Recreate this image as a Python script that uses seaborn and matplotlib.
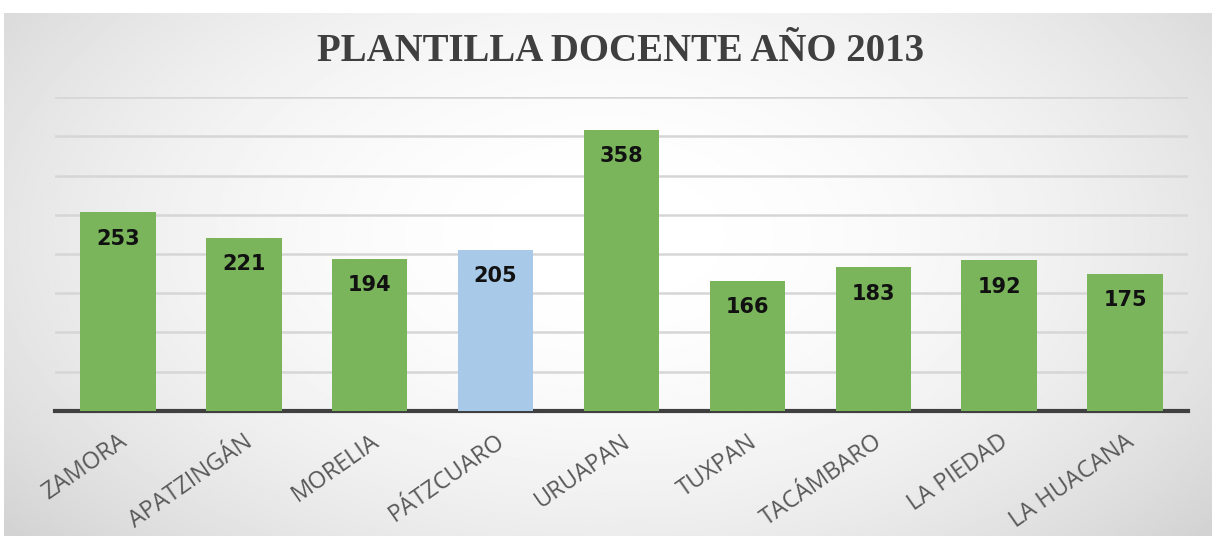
import numpy as np
import pandas as pd
import matplotlib
matplotlib.use("Agg")
import matplotlib.pyplot as plt
import seaborn as sns

# datos
municipios = ["ZAMORA", "APATZINGÁN", "MORELIA", "PÁTZCUARO", "URUAPAN",
              "TUXPAN", "TACÁMBARO", "LA PIEDAD", "LA HUACANA"]
docentes = [253, 221, 194, 205, 358, 166, 183, 192, 175]
colores = ["#7ab55c", "#7ab55c", "#7ab55c", "#a9c9e8", "#7ab55c",
           "#7ab55c", "#7ab55c", "#7ab55c", "#7ab55c"]

df = pd.DataFrame({"Municipio": municipios, "Docentes": docentes})

sns.set_style("white")
plt.rcParams["font.family"] = ["Open Sans", "DejaVu Sans"]

fig = plt.figure(figsize=(12.14, 5.39), dpi=100)
fig.patch.set_facecolor("white")

# fondo con degradado radial
bg = fig.add_axes([0.003, 0.006, 0.995, 0.970])
yy, xx = np.mgrid[-1:1:300j, -1:1:600j]
r = np.sqrt((xx / 1.0) ** 2 + ((yy + 0.15) / 1.35) ** 2)
shade = 1.0 - 0.20 * np.clip(r, 0, 1.4) ** 2 / 1.96
bg.imshow(shade, cmap="gray", vmin=0, vmax=1, aspect="auto",
          extent=[0, 1, 0, 1], interpolation="bilinear")
bg.set_axis_off()

ax = fig.add_axes([0.0453, 0.2375, 0.9333, 0.5825])
ax.patch.set_alpha(0)

sns.barplot(data=df, x="Municipio", y="Docentes", hue="Municipio",
            palette=colores, legend=False, width=0.6, saturation=1, ax=ax,
            linewidth=0, zorder=3)

ax.set_ylim(0, 400)
ax.set_yticks(range(0, 401, 50))
ax.yaxis.grid(True, color="#d6d6d6", lw=1.8)
ax.set_axisbelow(True)
ax.tick_params(axis="y", left=False, labelleft=False)
ax.tick_params(axis="x", bottom=False, pad=10)
ax.set_xlabel("")
ax.set_ylabel("")
for s in ["top", "left", "right"]:
    ax.spines[s].set_visible(False)
ax.spines["bottom"].set_color("#404040")
ax.spines["bottom"].set_linewidth(3)

plt.setp(ax.get_xticklabels(), rotation=35, ha="right",
         rotation_mode="anchor", fontsize=17, color="#595959")

for i, v in enumerate(docentes):
    ax.annotate(str(v), (i, v), xytext=(0, -19), textcoords="offset points",
                ha="center", va="center", fontsize=15, fontweight="bold",
                family="DejaVu Sans", color="#111111", zorder=4)

fig.text(0.511, 0.905, "PLANTILLA DOCENTE AÑO 2013", ha="center",
         va="center", fontsize=28, fontweight="bold",
         family="Liberation Serif", color="#3f3f3f")

fig.savefig("out.png", dpi=100)
